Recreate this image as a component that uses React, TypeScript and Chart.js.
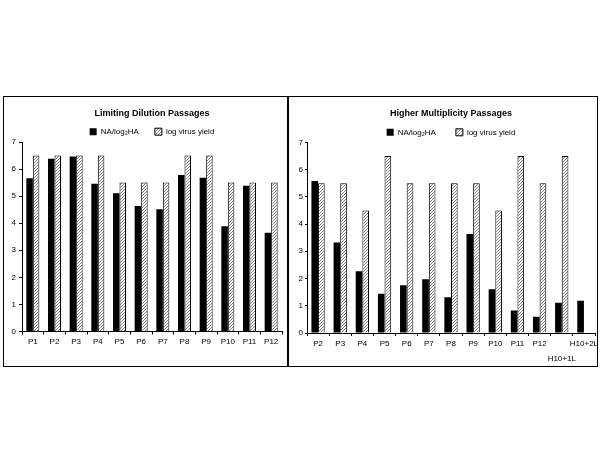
import React, { useEffect, useRef } from 'react';
import { Chart, registerables } from 'chart.js';

Chart.register(...registerables);
Chart.defaults.font.family = "'Liberation Sans', Arial, Helvetica, sans-serif";
Chart.defaults.color = '#000';

const seriesNames = ['NA/log₂HA', 'log virus yield'];
const yTickMin = 0;
const yTickMax = 7;

const leftTitle = 'Limiting Dilution Passages';
const leftCategories = ['P1', 'P2', 'P3', 'P4', 'P5', 'P6', 'P7', 'P8', 'P9', 'P10', 'P11', 'P12'];
const leftNA = [5.66, 6.38, 6.46, 5.46, 5.11, 4.64, 4.52, 5.78, 5.68, 3.89, 5.38, 3.65];
const leftYield = [6.5, 6.5, 6.5, 6.5, 5.5, 5.5, 5.5, 6.5, 6.5, 5.5, 5.5, 5.5];

const rightTitle = 'Higher Multiplicity Passages';
const rightCategories: (string | string[])[] = ['P2', 'P3', 'P4', 'P5', 'P6', 'P7', 'P8', 'P9', 'P10', 'P11', 'P12', ['', 'H10+1L'], 'H10+2L'];
const rightNA = [5.58, 3.32, 2.27, 1.44, 1.75, 1.97, 1.31, 3.63, 1.61, 0.83, 0.6, 1.11, 1.18];
const rightYield = [5.5, 5.5, 4.5, 6.5, 5.5, 5.5, 5.5, 5.5, 4.5, 6.5, 5.5, 6.5, null];

type Geo = {
  box: { left: number; top: number; width: number; height: number };
  canvas: { left: number; top: number; width: number; height: number };
  chartLeft: number;
  chartTop: number;
  chartBottom: number;
  padRight: number;
  titleCenter: number;
  legendCenter: number;
  legendPad: number;
  yTickLen: number;
  yTickPad: number;
};

const leftGeo: Geo = {
  box: { left: 3, top: 96, width: 285, height: 271 },
  canvas: { left: 4, top: 97, width: 283, height: 269 },
  chartLeft: 18,
  chartTop: 45,
  chartBottom: 234.5,
  padRight: 5,
  titleCenter: 16.3,
  legendCenter: 34.7,
  legendPad: 16,
  yTickLen: 3,
  yTickPad: 3,
};

const rightGeo: Geo = {
  box: { left: 288, top: 96, width: 310, height: 271 },
  canvas: { left: 289, top: 97, width: 311, height: 269 },
  chartLeft: 18,
  chartTop: 45.3,
  chartBottom: 236,
  padRight: 5,
  titleCenter: 17,
  legendCenter: 35.3,
  legendPad: 20,
  yTickLen: 2,
  yTickPad: 2,
};

function makeHatch(ctx: CanvasRenderingContext2D) {
  const c = document.createElement('canvas');
  c.width = 3;
  c.height = 3;
  const g = c.getContext('2d')!;
  g.fillStyle = '#fff';
  g.fillRect(0, 0, 3, 3);
  g.fillStyle = '#808080';
  g.fillRect(2, 0, 1, 1);
  g.fillRect(1, 1, 1, 1);
  g.fillRect(0, 2, 1, 1);
  return ctx.createPattern(c, 'repeat')!;
}

function Panel({ title, categories, na, yld, geo }: { title: string; categories: any[]; na: number[]; yld: (number | null)[]; geo: Geo }) {
  const ref = useRef<HTMLCanvasElement>(null);
  useEffect(() => {
    const canvas = ref.current!;
    const ctx = canvas.getContext('2d')!;
    const hatch = makeHatch(ctx);
    const titleLH = 9 * 1.2;
    const padTop = geo.titleCenter - titleLH / 2;
    const legendTop = geo.legendCenter - geo.legendPad - 4;
    const padBottom = legendTop - padTop - titleLH;
    const chart = new Chart(canvas, {
      type: 'bar',
      data: {
        labels: categories,
        datasets: [
          { label: seriesNames[0], data: na, backgroundColor: '#000', borderColor: '#000', borderWidth: 0 },
          { label: seriesNames[1], data: yld, backgroundColor: hatch, borderColor: '#000', borderWidth: 1 },
        ],
      },
      options: {
        animation: false,
        responsive: false,
        maintainAspectRatio: false,
        devicePixelRatio: 1,
        layout: { padding: { top: 0, left: 0, right: geo.padRight, bottom: 0 } },
        datasets: { bar: { categoryPercentage: 0.6, barPercentage: 1 } },
        plugins: {
          title: {
            display: true,
            text: title,
            color: '#000',
            fullSize: false,
            font: { size: 9, weight: 'bold', lineHeight: 1.2 },
            padding: { top: padTop, bottom: padBottom },
          },
          legend: {
            display: true,
            position: 'top',
            fullSize: false,
            maxHeight: geo.chartTop - legendTop,
            labels: { boxWidth: 7, boxHeight: 7, padding: geo.legendPad, color: '#000', font: { size: 8 } },
          },
          tooltip: { enabled: false },
        },
        scales: {
          x: {
            grid: { display: true, drawOnChartArea: false, drawTicks: true, tickLength: 3, color: '#000', offset: true },
            border: { display: true, color: '#000', width: 1 },
            ticks: { color: '#000', font: { size: 8, lineHeight: 1.875 }, padding: 0, maxRotation: 0, autoSkip: false },
            afterFit: (s: any) => {
              s.height = geo.canvas.height - geo.chartBottom;
              s.paddingLeft = 0;
              s.paddingRight = 0;
            },
          },
          y: {
            min: yTickMin,
            max: yTickMax,
            grid: { display: true, drawOnChartArea: false, drawTicks: true, tickLength: geo.yTickLen, color: '#000' },
            border: { display: true, color: '#000', width: 1 },
            ticks: { stepSize: 1, color: '#000', font: { size: 8 }, padding: geo.yTickPad },
            afterFit: (s: any) => {
              s.width = geo.chartLeft;
            },
          },
        },
      },
    } as any);
    return () => chart.destroy();
  }, []);
  return (
    <>
      <div
        style={{
          position: 'absolute',
          left: geo.box.left,
          top: geo.box.top,
          width: geo.box.width,
          height: geo.box.height,
          boxSizing: 'border-box',
          border: '1px solid #000',
        }}
      />
      <canvas
        ref={ref}
        width={geo.canvas.width}
        height={geo.canvas.height}
        style={{ position: 'absolute', left: geo.canvas.left, top: geo.canvas.top, width: geo.canvas.width, height: geo.canvas.height }}
      />
    </>
  );
}

export default function App() {
  return (
    <div style={{ position: 'absolute', left: 0, top: 0, width: 600, height: 464, background: '#fff', overflow: 'hidden' }}>
      <Panel title={leftTitle} categories={leftCategories} na={leftNA} yld={leftYield} geo={leftGeo} />
      <Panel title={rightTitle} categories={rightCategories} na={rightNA} yld={rightYield} geo={rightGeo} />
    </div>
  );
}
